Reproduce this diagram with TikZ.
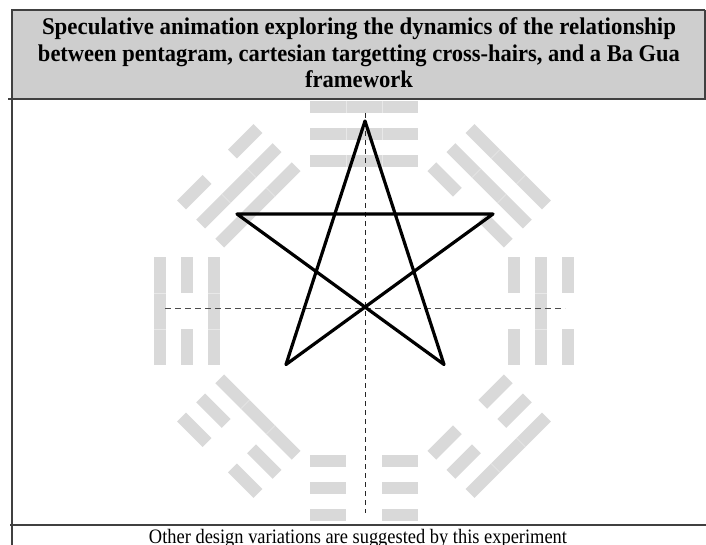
\documentclass[tikz,border=0pt]{standalone}
\usepackage{fontspec}
\setmainfont{Liberation Serif}
\usepackage{graphicx}
\definecolor{headgray}{RGB}{206,206,206}
\definecolor{baguagray}{RGB}{217,217,217}
\definecolor{seamcol}{RGB}{232,232,232}
\definecolor{rulecol}{RGB}{64,64,64}
\newcommand\bgbar[2]{%
  \fill[baguagray] (-54,-#1-6.25) rectangle (-18,-#1+6.25);
  \fill[baguagray] (18,-#1-6.25) rectangle (54,-#1+6.25);
  \ifnum#2=1
    \fill[baguagray] (-18,-#1-6.25) rectangle (18,-#1+6.25);
    \draw[seamcol,line width=0.6pt] (-18,-#1-6.25) -- (-18,-#1+6.25) (18,-#1-6.25) -- (18,-#1+6.25);
  \fi}
\newcommand\trigram[4]{%
  \begin{scope}[shift={(364,311)},rotate=#1]
    \bgbar{150}{#2}\bgbar{177}{#3}\bgbar{204}{#4}
  \end{scope}}
\begin{document}
\begin{tikzpicture}[x=1pt,y=-1pt,
  rulestyle/.style={draw=rulecol,line width=2pt},
  crossv/.style={draw=black!85,line width=1pt,dash pattern=on 5pt off 4pt},
  crossh/.style={draw=black!70,line width=0.8pt,dash pattern=on 6pt off 4pt},
  starline/.style={draw=black,line width=3.2pt,line join=round},
  titlefont/.style={font=\fontsize{24}{27}\selectfont\bfseries},
  capfont/.style={font=\fontsize{20.5}{24}\selectfont}]
\useasboundingbox (0,0) rectangle (706,545);
\fill[white] (0,0) rectangle (706,545);
% header
\fill[headgray] (11,10) rectangle (705,99);
\node[titlefont,anchor=base] (t1) at (359,35) {\resizebox{634pt}{\height}{Speculative animation exploring the dynamics of the relationship}};
\node[titlefont,anchor=base] (t2) at (359,61.5) {\resizebox{642pt}{\height}{between pentagram, cartesian targetting cross-hairs, and a Ba Gua}};
\node[titlefont,anchor=base] (t3) at (359,88) {\resizebox{108pt}{\height}{framework}};
% Ba Gua
\trigram{0}{1}{1}{1}
\trigram{45}{1}{1}{0}
\trigram{90}{1}{0}{1}
\trigram{135}{1}{0}{0}
\trigram{180}{0}{0}{0}
\trigram{225}{0}{0}{1}
\trigram{270}{0}{1}{0}
\trigram{315}{0}{1}{1}
% cross hairs
\coordinate (vt) at (365,113);
\coordinate (vb) at (365,513);
\coordinate (hl) at (165,308);
\coordinate (hr) at (565,308);
\draw[crossv] (vt) -- (vb);
\draw[crossh] (hl) -- (hr);
% pentagram
\coordinate (pt) at (365,121);
\coordinate (pr) at (493,214);
\coordinate (pl) at (237,214);
\coordinate (pbl) at (286,364.5);
\coordinate (pbr) at (444,364.5);
\draw[starline] (pt) -- (pbl) -- (pr) -- (pl) -- (pbr) -- cycle;
% rules
\draw[rulestyle] (11,10.5) -- (705,10.5);
\draw[rulestyle] (704.5,10) -- (704.5,99);
\draw[rulestyle] (8,99.5) -- (706,99.5);
\draw[rulestyle] (11.5,10) -- (11.5,545);
\draw[rulestyle] (10,524.5) -- (706,524.5);
% caption
\node[capfont,anchor=base] (cap) at (358,543.5) {\resizebox{418pt}{\height}{Other design variations are suggested by this experiment}};
\end{tikzpicture}
\end{document}
